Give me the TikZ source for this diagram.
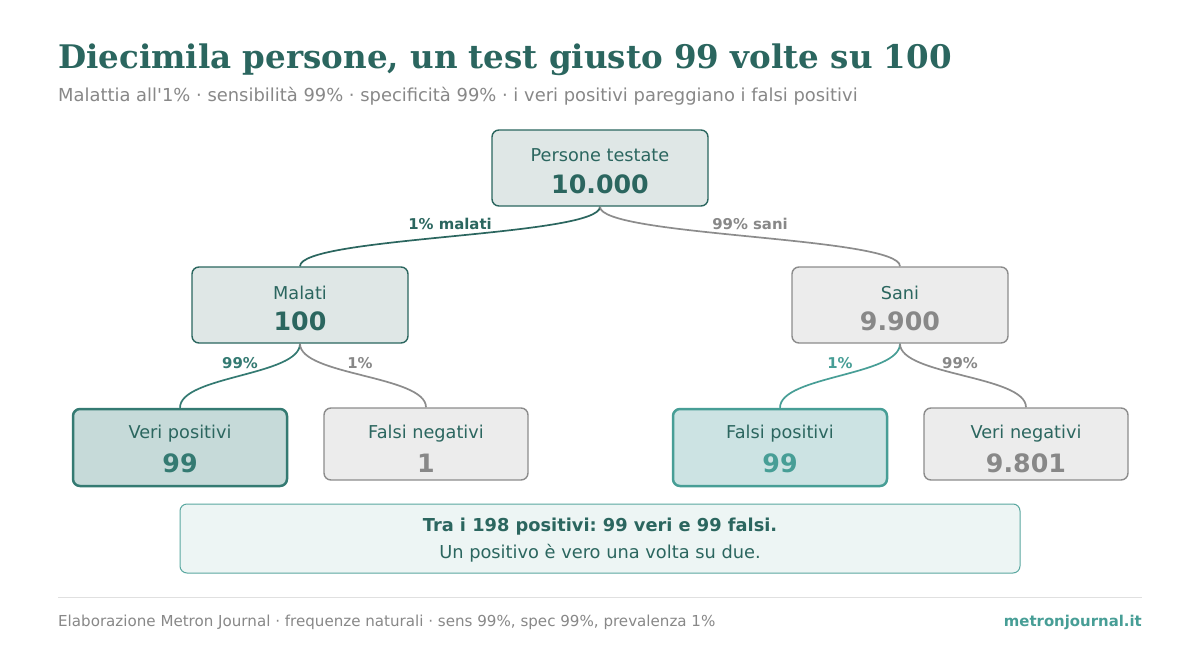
\documentclass[tikz,border=0pt]{standalone}
\usepackage{fontspec}
\usetikzlibrary{calc}
\setmainfont{DejaVu Sans}
\newfontfamily\titlefont{DejaVu Serif}
\newfontfamily\subfont{DejaVu Sans}[Ligatures=TeXOff]
\frenchspacing
\definecolor{dgreen}{HTML}{2B665F}
\definecolor{mgreen}{HTML}{347A72}
\definecolor{teal}{HTML}{479E96}
\definecolor{grayt}{HTML}{888888}
\definecolor{grayb}{HTML}{8C8C8C}
\definecolor{fillg}{HTML}{DFE7E6}
\definecolor{fillgray}{HTML}{ECECEC}
\definecolor{fillvp}{HTML}{C6DAD9}
\definecolor{fillfp}{HTML}{CCE3E3}
\definecolor{fillnote}{HTML}{EDF5F4}
\definecolor{notebord}{HTML}{5AA8A0}
\newcommand{\fs}[1]{\fontsize{#1}{#1}\selectfont}
\tikzset{
  box/.style={draw, rounded corners=7, line width=1.4},
  lbl/.style={font=\fs{17.7}, text=dgreen, inner sep=0},
  num/.style={font=\fs{25.3}\bfseries, inner sep=0},
  pct/.style={font=\fs{14.9}\bfseries, inner sep=0},
  conn/.style={line width=1.7},
}
\begin{document}
\begin{tikzpicture}[x=1pt,y=-1pt]
\useasboundingbox[fill=white] (0,0) rectangle (1200,672);
% title
\node[anchor=base west, inner sep=0, text=dgreen, font=\titlefont\fs{32.5}\bfseries] (title) at (58,68) {Diecimila persone, un test giusto 99 volte su 100};
\node[anchor=base west, inner sep=0, text=grayt, font=\subfont\fs{17.9}] (sub) at (58,101) {Malattia all'1\% · sensibilità 99\% · specificità 99\% · i veri positivi pareggiano i falsi positivi};
% boxes
\node[box, draw=dgreen, fill=fillg, minimum width=216, minimum height=76] (top) at (600,168) {};
\node[box, draw=dgreen, fill=fillg, minimum width=216, minimum height=76] (mal) at (300,305) {};
\node[box, draw=grayb, fill=fillgray, minimum width=216, minimum height=76] (san) at (900,305) {};
\node[box, draw=mgreen, fill=fillvp, line width=2.5, minimum width=214, minimum height=77] (vp) at (180,447.5) {};
\node[box, draw=grayb, fill=fillgray, minimum width=204, minimum height=72] (fn) at (426,444) {};
\node[box, draw=teal, fill=fillfp, line width=2.5, minimum width=214, minimum height=77] (fp) at (780,447.5) {};
\node[box, draw=grayb, fill=fillgray, minimum width=204, minimum height=72] (vn) at (1026,444) {};
% texts
\node[lbl] at (600,155.5) {Persone testate};
\node[num, text=dgreen] at (600,184) {10.000};
\node[lbl] at (300,292.5) {Malati};
\node[num, text=dgreen] at (300,321) {100};
\node[lbl] at (900,292.5) {Sani};
\node[num, text=grayt] at (900,321) {9.900};
\node[lbl] at (180,433.5) {Veri positivi};
\node[num, text=mgreen] at (180,463) {99};
\node[lbl] at (426,433.5) {Falsi negativi};
\node[num, text=grayt] at (426,463) {1};
\node[lbl] at (780,433.5) {Falsi positivi};
\node[num, text=teal] at (780,463) {99};
\node[lbl] at (1026,433.5) {Veri negativi};
\node[num, text=grayt] at (1026,463) {9.801};
% connectors
\draw[conn, dgreen] (top.south) .. controls ($(top.south)!0.5!(top.south|-mal.north)$) and ($(mal.north)!0.5!(mal.north|-top.south)$) .. (mal.north);
\draw[conn, grayb] (top.south) .. controls ($(top.south)!0.5!(top.south|-san.north)$) and ($(san.north)!0.5!(san.north|-top.south)$) .. (san.north);
\draw[conn, mgreen] (mal.south) .. controls ($(mal.south)!0.5!(mal.south|-vp.north)$) and ($(vp.north)!0.5!(vp.north|-mal.south)$) .. (vp.north);
\draw[conn, grayb] (mal.south) .. controls ($(mal.south)!0.5!(mal.south|-fn.north)$) and ($(fn.north)!0.5!(fn.north|-mal.south)$) .. (fn.north);
\draw[conn, teal] (san.south) .. controls ($(san.south)!0.5!(san.south|-fp.north)$) and ($(fp.north)!0.5!(fp.north|-san.south)$) .. (fp.north);
\draw[conn, grayb] (san.south) .. controls ($(san.south)!0.5!(san.south|-vn.north)$) and ($(vn.north)!0.5!(vn.north|-san.south)$) .. (vn.north);
% percent labels
\node[pct, text=dgreen] (l1) at (450,224) {1\% malati};
\node[pct, text=grayt] (l2) at (750,224) {99\% sani};
\node[pct, text=mgreen] (l3) at (240,363) {99\%};
\node[pct, text=grayt] (l4) at (360,363) {1\%};
\node[pct, text=teal] (l5) at (840,363) {1\%};
\node[pct, text=grayt] (l6) at (960,363) {99\%};
% note
\node[draw=notebord, fill=fillnote, rounded corners=7, line width=1, minimum width=840, minimum height=69] (note) at (600,538.5) {};
\node[inner sep=0, text=dgreen, font=\fs{17.8}\bfseries] at (600,527) {Tra i 198 positivi: 99 veri e 99 falsi.};
\node[inner sep=0, text=dgreen, font=\fs{17.8}] at (600,553) {Un positivo è vero una volta su due.};
% footer
\coordinate (fl) at (58,597);
\coordinate (fr) at (1142,597);
\draw[line width=1, color=black!12] (fl) -- (fr);
\node[anchor=base west, inner sep=0, text=grayt, font=\fs{15.1}] at (58,626) {Elaborazione Metron Journal · frequenze naturali · sens 99\%, spec 99\%, prevalenza 1\%};
\node[anchor=base east, inner sep=0, text=teal, font=\fs{14.9}\bfseries] at (1142,626) {metronjournal.it};
\end{tikzpicture}
\end{document}
